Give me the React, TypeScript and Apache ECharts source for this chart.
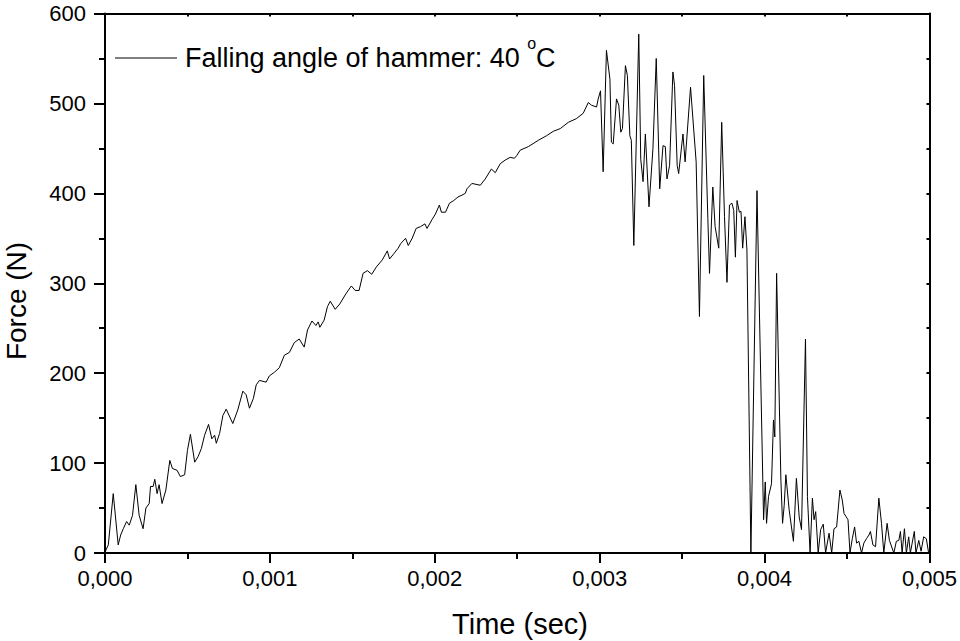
import { useEffect, useRef } from "react";
import * as echarts from "echarts";

// time in microseconds
const timeUs = [
  0, 20, 50, 80, 95, 111, 131, 147, 167, 187, 207, 231, 248, 268, 276, 292, 302, 316, 328, 346,
  369, 393, 409, 437, 457, 483, 500, 518, 544, 564, 584, 604, 628, 648, 665, 675, 695, 715, 735, 775,
  805, 836, 856, 876, 900, 917, 937, 977, 997, 1027, 1057, 1088, 1118, 1148, 1178, 1208, 1228, 1255, 1279, 1293,
  1303, 1329, 1349, 1366, 1396, 1424, 1460, 1494, 1517, 1541, 1565, 1591, 1618, 1645, 1682, 1712, 1726, 1752, 1778, 1793,
  1823, 1839, 1863, 1887, 1914, 1940, 1953, 1984, 2004, 2028, 2040, 2065, 2089, 2115, 2141, 2165, 2185, 2195, 2225, 2276,
  2306, 2343, 2367, 2397, 2427, 2457, 2483, 2497, 2518, 2568, 2628, 2677, 2719, 2761, 2810, 2858, 2900, 2931, 2950, 2981,
  2991, 3005, 3021, 3041, 3062, 3071, 3082, 3102, 3116, 3128, 3138, 3156, 3168, 3183, 3192, 3207, 3237, 3249, 3263, 3277,
  3299, 3323, 3343, 3364, 3384, 3398, 3408, 3424, 3444, 3454, 3470, 3479, 3505, 3518, 3551, 3585, 3605, 3631, 3656, 3666,
  3686, 3700, 3722, 3740, 3757, 3772, 3787, 3802, 3813, 3823, 3833, 3847, 3857, 3867, 3881, 3893, 3917, 3954, 3994, 4004,
  4012, 4024, 4042, 4054, 4062, 4073, 4099, 4109, 4119, 4129, 4149, 4163, 4175, 4193, 4210, 4224, 4248, 4260, 4276, 4290,
  4300, 4310, 4325, 4340, 4356, 4370, 4391, 4407, 4421, 4437, 4457, 4471, 4482, 4506, 4518, 4532, 4546, 4558, 4572, 4588,
  4602, 4618, 4633, 4642, 4657, 4673, 4693, 4709, 4723, 4743, 4757, 4784, 4799, 4814, 4824, 4834, 4848, 4860, 4874, 4884,
  4908, 4918, 4935, 4949, 4965, 4981, 4995,
];

// force in newtons
const forceN = [
  1, 9, 66, 9, 20, 27, 35, 31, 42, 76, 42, 27, 50, 55, 74, 74, 82, 66, 76, 55,
  70, 103, 94, 92, 85, 87, 114, 132, 101, 107, 116, 131, 143, 127, 131, 122, 133, 153, 160, 144,
  159, 180, 176, 161, 172, 187, 192, 190, 197, 201, 206, 220, 223, 234, 238, 229, 248, 258, 253, 257,
  251, 259, 274, 280, 271, 277, 288, 297, 292, 292, 311, 314, 310, 318, 326, 336, 327, 333, 339, 344,
  350, 342, 350, 361, 363, 366, 361, 371, 377, 387, 379, 379, 389, 392, 396, 398, 400, 405, 411, 409,
  416, 427, 423, 433, 437, 440, 439, 442, 448, 452, 459, 464, 469, 472, 479, 483, 489, 501, 498, 496,
  505, 514, 424, 559, 527, 457, 455, 505, 498, 468, 472, 542, 531, 464, 459, 342, 577, 438, 413, 466,
  385, 450, 550, 405, 453, 452, 416, 431, 535, 520, 431, 422, 466, 435, 518, 435, 263, 531, 372, 311,
  407, 363, 339, 479, 374, 301, 387, 389, 381, 329, 392, 379, 380, 339, 374, 337, 0, 403, 37, 79,
  33, 63, 77, 148, 129, 311, 81, 33, 53, 87, 48, 29, 13, 83, 40, 26, 238, 63, 0, 61,
  37, 46, 0, 26, 32, 0, 22, 0, 27, 29, 70, 59, 44, 37, 0, 16, 29, 11, 13, 0,
  11, 16, 20, 24, 9, 7, 61, 33, 0, 33, 14, 0, 13, 14, 24, 0, 27, 0, 18, 0,
  24, 0, 14, 2, 18, 16, 0,
];

const seriesName = "Falling angle of hammer: 40 °C";
const legendMain = "Falling angle of hammer: 40 ";
const legendSup = "o";
const legendUnit = "C";
const xTitle = "Time (sec)";
const yTitle = "Force (N)";

const FONT = '"Liberation Sans", Arial, Helvetica, sans-serif';

export default function App() {
  const ref = useRef<HTMLDivElement>(null);
  useEffect(() => {
    if (!ref.current) return;
    const chart = echarts.init(ref.current, null, { renderer: "svg" });
    const data = timeUs.map((t, i) => [t / 1e6, forceN[i]]);
    const axisLine = { show: true, onZero: false, lineStyle: { color: "#000", width: 2 } };
    chart.setOption({
      animation: false,
      backgroundColor: "#fff",
      textStyle: { fontFamily: FONT },
      grid: { left: 105, right: 27, top: 13.5, bottom: 88, containLabel: false },
      xAxis: [
        {
          type: "value",
          position: "bottom",
          min: 0,
          max: 0.005,
          interval: 0.001,
          axisLine,
          axisTick: { show: true, inside: false, length: 10, lineStyle: { color: "#000", width: 2 } },
          minorTick: { show: true, splitNumber: 2, length: 6, lineStyle: { color: "#000", width: 2 } },
          splitLine: { show: false },
          minorSplitLine: { show: false },
          axisLabel: {
            color: "#000",
            fontSize: 22,
            fontFamily: FONT,
            margin: 14,
            formatter: (v: number) => v.toFixed(3).replace(".", ","),
          },
        },
        {
          type: "value",
          position: "top",
          min: 0,
          max: 0.005,
          interval: 0.0005,
          axisLine,
          axisTick: { show: true, inside: true, length: 3, lineStyle: { color: "#000", width: 2 } },
          splitLine: { show: false },
          axisLabel: { show: false },
        },
      ],
      yAxis: [
        {
          type: "value",
          position: "left",
          min: 0,
          max: 600,
          interval: 100,
          axisLine,
          axisTick: { show: true, inside: false, length: 11, lineStyle: { color: "#000", width: 2 } },
          minorTick: { show: true, splitNumber: 2, length: 6, lineStyle: { color: "#000", width: 2 } },
          splitLine: { show: false },
          minorSplitLine: { show: false },
          axisLabel: { color: "#000", fontSize: 22, fontFamily: FONT, margin: 19 },
        },
        {
          type: "value",
          position: "right",
          min: 0,
          max: 600,
          interval: 50,
          axisLine,
          axisTick: { show: true, inside: true, length: 3, lineStyle: { color: "#000", width: 2 } },
          splitLine: { show: false },
          axisLabel: { show: false },
        },
      ],
      graphic: [
        {
          type: "line",
          shape: { x1: 115, y1: 58, x2: 177, y2: 58 },
          style: { stroke: "#000", lineWidth: 1 },
        },
        {
          type: "text",
          x: 185,
          y: 58,
          style: {
            text: `{a|${legendMain}}{s|${legendSup}}{a|${legendUnit}}`,
            fontFamily: FONT,
            fill: "#000",
            align: "left",
            verticalAlign: "middle",
            rich: {
              a: { fontSize: 27, fontFamily: FONT, fill: "#000", lineHeight: 46 },
              s: { fontSize: 16, fontFamily: FONT, fill: "#000", verticalAlign: "top", lineHeight: 16 },
            },
          },
        },
        {
          type: "text",
          x: 520,
          y: 624,
          style: { text: xTitle, fontSize: 29, fontFamily: FONT, fill: "#000", align: "center", verticalAlign: "middle" },
        },
        {
          type: "text",
          x: 16,
          y: 301,
          rotation: Math.PI / 2,
          style: {
            text: yTitle,
            fontSize: 28,
            lineHeight: 28,
            fontFamily: FONT,
            fill: "#000",
            align: "center",
            verticalAlign: "middle",
          },
        },
      ],
      series: [
        {
          name: seriesName,
          type: "line",
          xAxisIndex: 0,
          yAxisIndex: 0,
          data,
          symbol: "none",
          showSymbol: false,
          lineStyle: { color: "#000", width: 1 },
          itemStyle: { color: "#000" },
        },
      ],
    });
    return () => chart.dispose();
  }, []);
  return <div ref={ref} style={{ position: "fixed", left: 0, top: 0, width: 960, height: 641 }} />;
}
